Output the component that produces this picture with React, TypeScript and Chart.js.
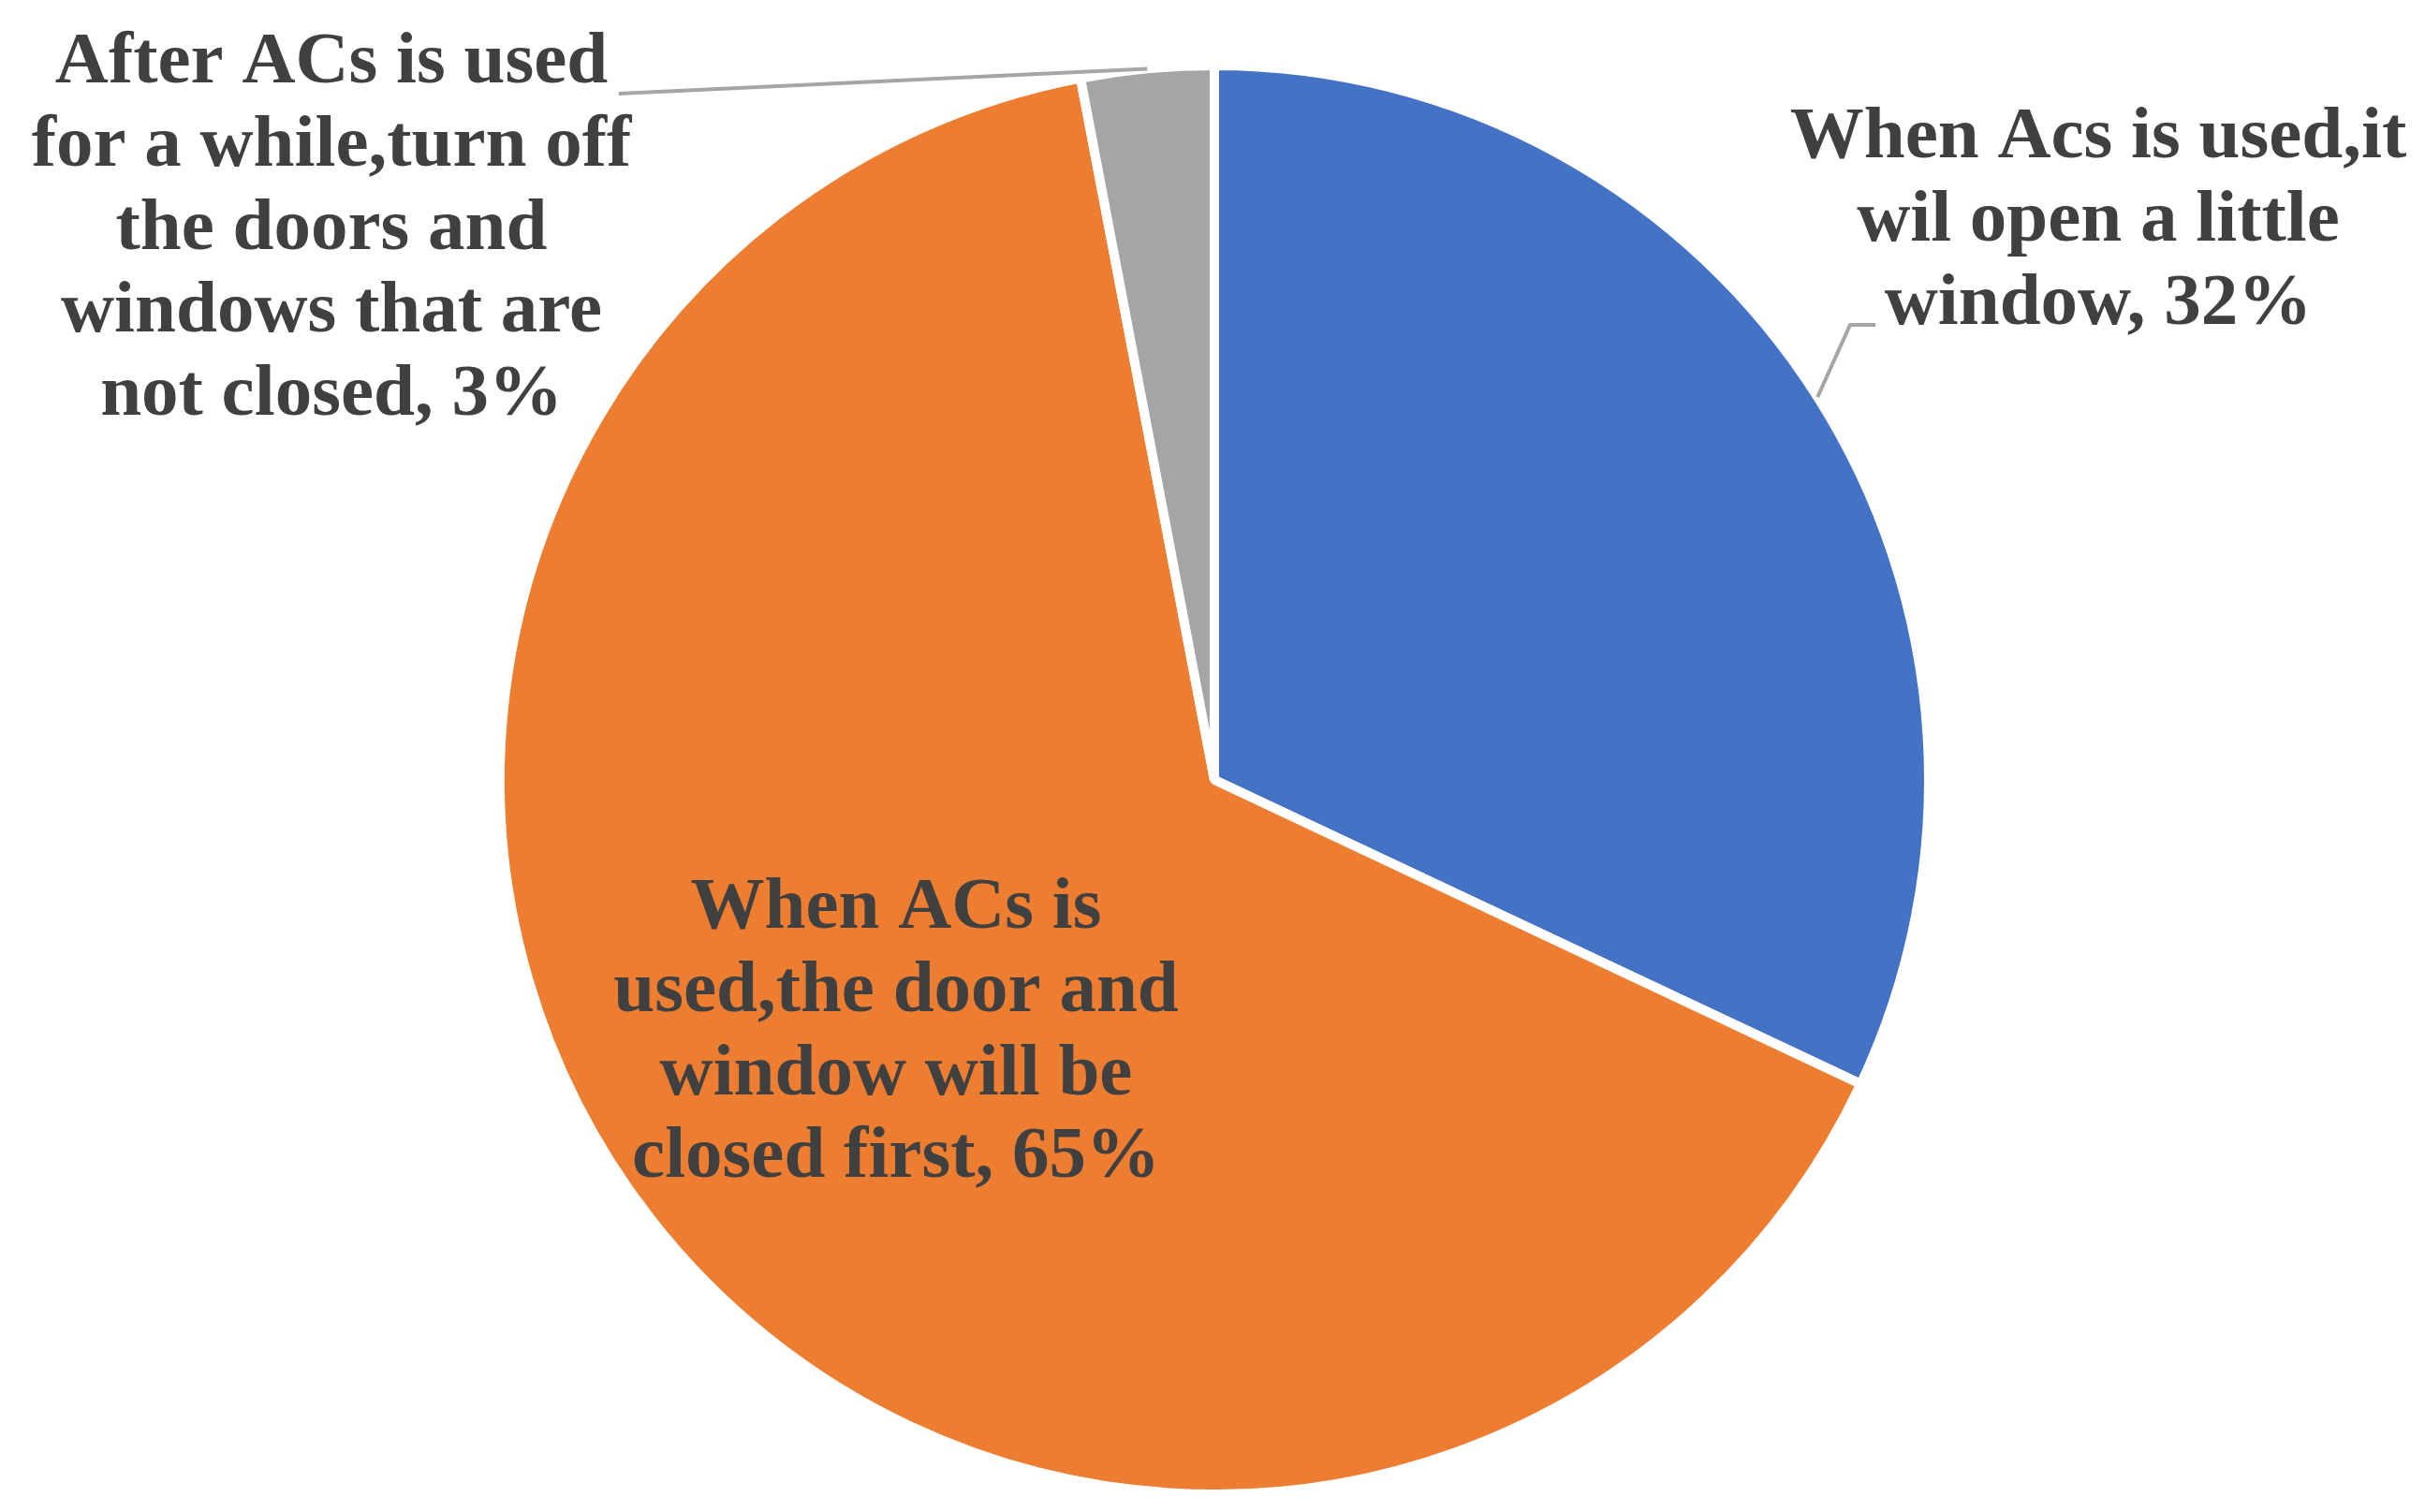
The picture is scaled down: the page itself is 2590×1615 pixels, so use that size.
import React, { useEffect, useRef } from "react";
import { Chart, registerables } from "chart.js";

Chart.register(...registerables);

const categories = [
  "When Acs is used,it wil open a little window",
  "When ACs is used,the door and window will be closed first",
  "After ACs is used for a while,turn off the doors and windows that are not closed",
];
const values = [32, 65, 3];
const labelLines = [
  ["When Acs is used,it", "wil open a little", "window, 32%"],
  ["When ACs is", "used,the door and", "window will be", "closed first, 65%"],
  ["After ACs is used", "for a while,turn off", "the doors and", "windows that are", "not closed, 3%"],
];
const colors = ["#4472C4", "#ED7D31", "#A5A5A5"];

const W = 2590;
const H = 1615;
const FONT = "bold 79px 'Liberation Serif', 'Times New Roman', serif";
const LINE_H = 88.8;
const TEXT_COLOR = "#404040";
const LEADER_COLOR = "#A5A5A5";

// label layout (text centre x, first baseline y, leader elbow points)
const labelLayout = [
  { cx: 2241, y0: 168, leader: [[1976, 347], [2003, 347]] },
  { cx: 957, y0: 991, leader: [] as number[][] },
  { cx: 354, y0: 88, leader: [[661, 100]] },
];

const labelPlugin = {
  id: "pieLabels",
  afterDatasetsDraw(chart: any) {
    const ctx = chart.ctx;
    const meta = chart.getDatasetMeta(0);
    meta.data.forEach((arc: any, i: number) => {
      const p = arc.getProps(["x", "y", "startAngle", "endAngle", "outerRadius"], true);
      const mid = (p.startAngle + p.endAngle) / 2;
      const lay = labelLayout[i];
      if (lay.leader.length) {
        const ex = p.x + Math.cos(mid) * p.outerRadius;
        const ey = p.y + Math.sin(mid) * p.outerRadius;
        ctx.save();
        ctx.strokeStyle = LEADER_COLOR;
        ctx.lineWidth = 4;
        ctx.lineJoin = "miter";
        ctx.beginPath();
        ctx.moveTo(ex, ey);
        lay.leader.forEach((pt) => ctx.lineTo(pt[0], pt[1]));
        ctx.stroke();
        ctx.restore();
      }
      ctx.save();
      ctx.font = FONT;
      ctx.fillStyle = TEXT_COLOR;
      ctx.textAlign = "center";
      ctx.textBaseline = "alphabetic";
      labelLines[i].forEach((line, k) => {
        ctx.fillText(line, lay.cx, lay.y0 + k * LINE_H);
      });
      ctx.restore();
    });
  },
};

export default function App() {
  const ref = useRef<HTMLCanvasElement | null>(null);
  useEffect(() => {
    document.body.style.margin = "0";
    const canvas = ref.current!;
    const chart = new Chart(canvas, {
      type: "pie",
      data: {
        labels: categories,
        datasets: [
          {
            data: values,
            backgroundColor: colors,
            borderColor: "#ffffff",
            borderWidth: 10,
          },
        ],
      },
      options: {
        responsive: false,
        animation: false,
        layout: { padding: { top: 65, bottom: 14, left: 529, right: 525 } },
        plugins: {
          legend: { display: false },
          tooltip: { enabled: false },
        },
      },
      plugins: [labelPlugin],
    });
    return () => chart.destroy();
  }, []);
  return (
    <div style={{ width: W, height: H, background: "#fff" }}>
      <canvas ref={ref} width={W} height={H} style={{ display: "block" }} />
    </div>
  );
}
